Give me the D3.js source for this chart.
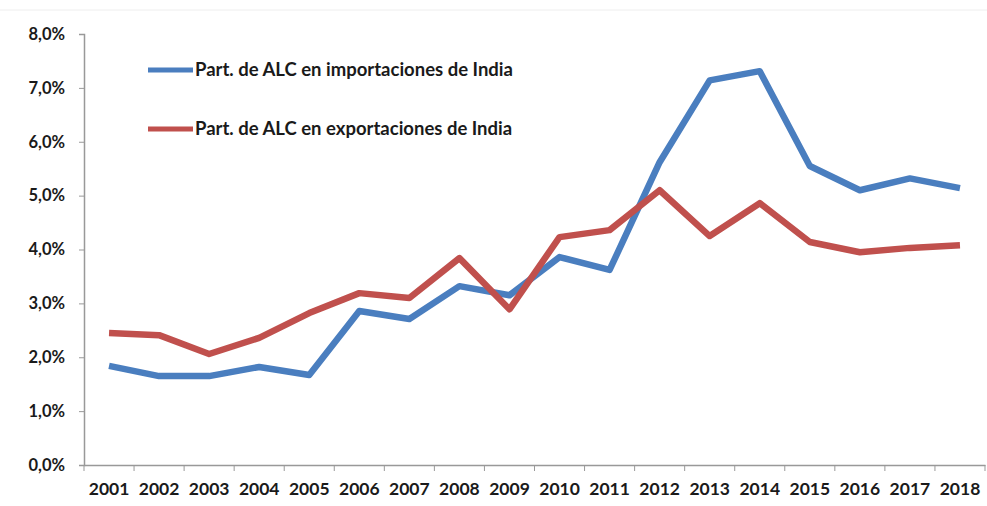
<!DOCTYPE html>
<html>
<head>
<meta charset="utf-8">
<script src="https://cdn.jsdelivr.net/npm/d3@7"></script>
<style>
  body { margin: 0; background: #fff; }
  text { font-family: Lato, "Open Sans", sans-serif; font-weight: bold; fill: #1a1a1a; }
</style>
</head>
<body>
<svg id="chart" width="987" height="506"></svg>
<script>
var years = ["2001","2002","2003","2004","2005","2006","2007","2008","2009","2010","2011","2012","2013","2014","2015","2016","2017","2018"];
// shares in percent
var imports = [1.84,1.65,1.65,1.82,1.67,2.86,2.71,3.32,3.15,3.86,3.62,5.62,7.14,7.31,5.55,5.10,5.32,5.14];
var exports = [2.45,2.41,2.06,2.36,2.82,3.19,3.10,3.84,2.89,4.23,4.36,5.10,4.25,4.86,4.14,3.95,4.03,4.08];
var yTicks = [0,1,2,3,4,5,6,7,8];
var seriesNames = ["Part. de ALC en importaciones de India", "Part. de ALC en exportaciones de India"];
var colors = ["#4a7ebf", "#c0504d"];

var svg = d3.select("#chart");
var plotLeft = 84, plotRight = 985, plotTop = 34, plotBottom = 465;

var x = d3.scaleBand().domain(years).range([plotLeft, plotRight]);
var y = d3.scaleLinear().domain([0, 8]).range([plotBottom, plotTop]);

// faint frame line at top (cut-off chart border)
svg.append("line").attr("x1", 0).attr("x2", 987).attr("y1", 10).attr("y2", 10)
  .attr("stroke", "#eee").attr("stroke-width", 1);

var yAxis = d3.axisLeft(y).tickValues(yTicks).tickSize(5).tickPadding(14)
  .tickFormat(function(d) { return d3.format(".1f")(d).replace(".", ",") + "%"; });
var gy = svg.append("g").attr("transform", "translate(" + plotLeft + ",0)").call(yAxis);
gy.selectAll("text").style("font-size", "16.5px");

var xAxis = d3.axisBottom(x).tickSize(0).tickPadding(18);
var gx = svg.append("g").attr("transform", "translate(0," + plotBottom + ")").call(xAxis);
gx.selectAll("text").style("font-size", "17.5px");
// tick marks on band boundaries, like Excel
gx.selectAll(".sep").data(years.concat(["end"])).enter().append("line")
  .attr("x1", function(d, i) { return plotLeft + i * x.step(); })
  .attr("x2", function(d, i) { return plotLeft + i * x.step(); })
  .attr("y1", 0).attr("y2", 6).attr("stroke", "#999");

svg.selectAll(".domain").attr("stroke", "#999").attr("stroke-width", 1.5);
svg.selectAll(".tick line").attr("stroke", "#999");

var line = d3.line()
  .x(function(d, i) { return x(years[i]) + x.bandwidth() / 2; })
  .y(function(d) { return y(d); });

[imports, exports].forEach(function(s, i) {
  svg.append("path").datum(s)
    .attr("d", line)
    .attr("fill", "none")
    .attr("stroke", colors[i])
    .attr("stroke-width", 6.5)
    .attr("stroke-linejoin", "round");
});

// legend
var legend = svg.append("g");
seriesNames.forEach(function(n, i) {
  var ly = 70 + i * 59;
  legend.append("line").attr("x1", 148).attr("x2", 193).attr("y1", ly).attr("y2", ly)
    .attr("stroke", colors[i]).attr("stroke-width", 5);
  legend.append("text").attr("x", 195).attr("y", ly + 6).style("font-size", "18.5px").text(n);
});
</script>
</body>
</html>
